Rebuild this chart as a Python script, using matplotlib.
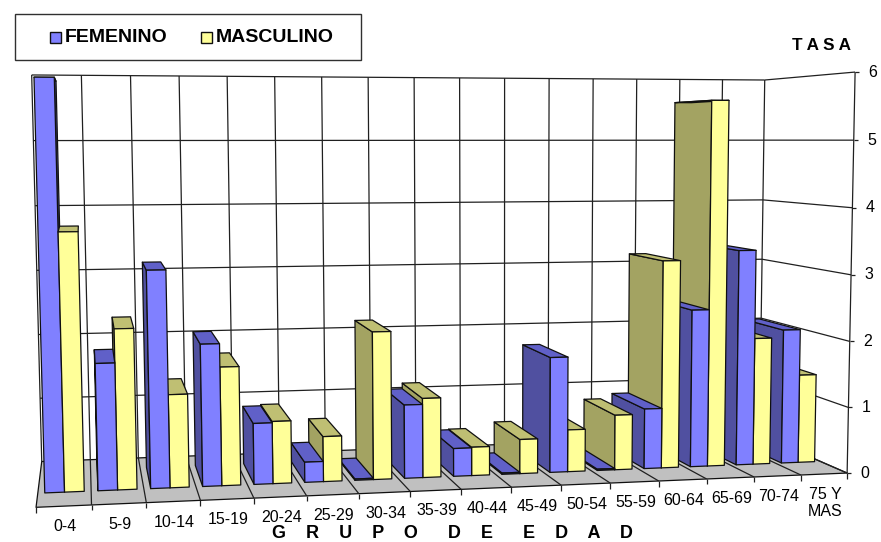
import numpy as np
import matplotlib
matplotlib.use("Agg")
import matplotlib.pyplot as plt
from matplotlib.patches import Polygon, Rectangle

# ---- data -------------------------------------------------------------
categories = ["0-4", "5-9", "10-14", "15-19", "20-24", "25-29", "30-34", "35-39",
              "40-44", "45-49", "50-54", "55-59", "60-64", "65-69", "70-74", "75 Y\nMAS"]
femenino = [5.88, 1.84, 3.16, 2.08, 0.90, 0.30, 0.02, 1.10,
            0.42, 0.02, 1.75, 0.02, 0.92, 2.42, 3.32, 2.08]
masculino = [3.72, 2.33, 1.36, 1.74, 0.92, 0.67, 2.20, 1.19,
             0.43, 0.52, 0.64, 0.84, 3.18, 5.60, 1.96, 1.37]
value_ticks = [0, 1, 2, 3, 4, 5, 6]

# ---- styles -----------------------------------------------------------
FONT = "Liberation Sans"
F_COL = ("#8080FF", "#6060C8", "#5050A0")   # front, top, side
M_COL = ("#FFFF99", "#BFBF73", "#A3A362")
GAP, D0, D1 = 0.13, 0.28, 0.76
LW = 0.9

# ---- perspective of the chart box (category, depth, value) -> figure px
calib = [((0, 0, 0), (35, 509)), ((16, 0, 0), (846, 471)),
         ((0, 1, 0), (42, 459)), ((16, 1, 0), (760, 438)),
         ((0, 1, 6), (31, 76)), ((16, 1, 6), (764, 79)),
         ((16, 0, 6), (856, 73)),
         ((5, 1, 6), (276, 77)), ((13, 1, 6), (636, 78)),
         ((5, 0, 0), (307, 496.3)), ((10, 0, 0), (562, 484.3))]
A, b = [], []
for (X, Y, Z), (u, v) in calib:
    A.append([X, Y, Z, 1, 0, 0, 0, 0, -u * X, -u * Y, -u * Z]); b.append(u)
    A.append([0, 0, 0, 0, X, Y, Z, 1, -v * X, -v * Y, -v * Z]); b.append(v)
p = np.linalg.lstsq(np.array(A, float), np.array(b, float), rcond=None)[0]
P = np.append(p, 1.0).reshape(3, 4)


def proj(x, d, v):
    q = P @ np.array([x, d, v, 1.0])
    return q[0] / q[2], q[1] / q[2]


vanish_x = P[0, 1] / P[2, 1]

fig = plt.figure(figsize=(8.81, 5.42), dpi=100, facecolor="white")
ax = fig.add_axes([0, 0, 1, 1])
ax.set_xlim(0, 881)
ax.set_ylim(542, 0)
ax.axis("off")


def line(a, b, lw=LW, color="#202020", z=1):
    ax.plot([a[0], b[0]], [a[1], b[1]], color=color, lw=lw, zorder=z,
            solid_capstyle="butt")


def face(pts, color, z):
    ax.add_patch(Polygon(pts, closed=True, facecolor=color, edgecolor="#101010",
                         lw=LW, joinstyle="round", zorder=z))


n = len(categories)
# floor
face([proj(0, 0, 0), proj(n, 0, 0), proj(n, 1, 0), proj(0, 1, 0)], "#C0C0C0", 1)
for i in range(1, n):
    line(proj(i, 0, 0), proj(i, 1, 0), z=1.5)
# walls
for v in value_ticks[1:]:
    line(proj(0, 1, v), proj(n, 1, v))
    line(proj(n, 1, v), proj(n, 0, v))
line(proj(n, 1, 0), proj(n, 0, 0))
for i in range(0, n + 1):
    line(proj(i, 1, 0), proj(i, 1, 6))
line(proj(n, 0, 0), proj(n, 0, 6), z=1.5)

# ticks and labels
for v in value_ticks:
    x, y = proj(n, 0, v)
    line((x, y), (x + 4, y), z=1.5)
    ax.text(x + 18, y, str(v), ha="center", va="center", family=FONT,
            fontsize=11.5, color="black")
for i in range(n + 1):
    x, y = proj(i, 0, 0)
    line((x, y), (x, y + 5.5), z=1.5)
for i, c in enumerate(categories):
    x, y = proj(i + 0.5, 0, 0)
    ax.text(x + 1, y + 13, c, ha="center", va="top", ma="center", family=FONT,
            fontsize=11.5, color="black")

# bars, painted from the far side of the vanishing point inwards
bars = []
for i in range(n):
    bars.append((i + GAP, i + 0.5, femenino[i], F_COL))
    bars.append((i + 0.5, i + 1 - GAP, masculino[i], M_COL))


def dist(bar):
    xa = proj(bar[0], D0, 0)[0]
    xb = proj(bar[1], D0, 0)[0]
    return max(abs(xa - vanish_x), abs(xb - vanish_x))


for k, bar in enumerate(sorted(bars, key=dist, reverse=True)):
    x0, x1, val, (fc, tc, sc) = bar
    z = 2 + k * 0.01
    if proj(x0, D0, 0)[0] > vanish_x:
        face([proj(x0, D0, 0), proj(x0, D1, 0), proj(x0, D1, val), proj(x0, D0, val)], sc, z)
    if proj(x1, D0, 0)[0] < vanish_x:
        face([proj(x1, D0, 0), proj(x1, D1, 0), proj(x1, D1, val), proj(x1, D0, val)], sc, z)
    face([proj(x0, D0, val), proj(x1, D0, val), proj(x1, D1, val), proj(x0, D1, val)], tc, z + 0.001)
    face([proj(x0, D0, 0), proj(x1, D0, 0), proj(x1, D0, val), proj(x0, D0, val)], fc, z + 0.002)

# legend
ax.add_patch(Rectangle((15, 14), 346, 46, facecolor="white", edgecolor="#303030", lw=1.0, zorder=6))
ax.add_patch(Rectangle((50, 32), 11, 11, facecolor=F_COL[0], edgecolor="#101010", lw=1.0, zorder=7))
ax.add_patch(Rectangle((201, 32), 11, 11, facecolor=M_COL[0], edgecolor="#101010", lw=1.0, zorder=7))
ax.text(65, 37.5, "FEMENINO", family=FONT, weight="bold", fontsize=14.0, va="center", zorder=7)
ax.text(216, 37.5, "MASCULINO", family=FONT, weight="bold", fontsize=14.0, va="center", zorder=7)

# axis titles
ax.text(821, 45, "T A S A", family=FONT, weight="bold", fontsize=12.3, ha="center", va="center")
ax.text(452, 533, "G    R    U    P    O      D    E      E    D    A    D", family=FONT,
        weight="bold", fontsize=13, ha="center", va="center", zorder=8)

fig.savefig("out.png", dpi=100)
